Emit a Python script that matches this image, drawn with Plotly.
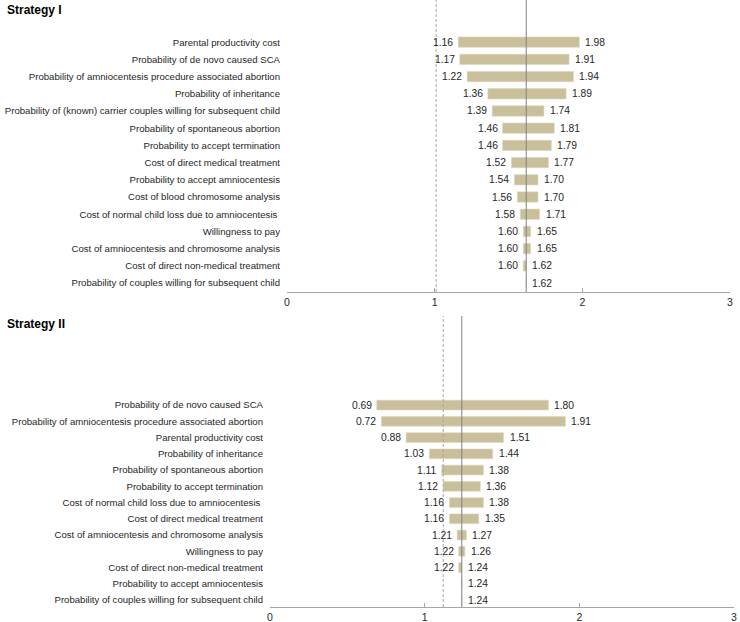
import plotly.graph_objects as go

# ---------------- data ----------------
s1_labels = [
    "Parental productivity cost",
    "Probability of de novo caused SCA",
    "Probability of amniocentesis procedure associated abortion",
    "Probability of inheritance",
    "Probability of (known) carrier couples willing for subsequent child",
    "Probability of spontaneous abortion",
    "Probability to accept termination",
    "Cost of direct medical treatment",
    "Probability to accept amniocentesis",
    "Cost of blood chromosome analysis",
    "Cost of normal child loss due to amniocentesis ",
    "Willingness to pay",
    "Cost of amniocentesis and chromosome analysis",
    "Cost of direct non-medical treatment",
    "Probability of couples willing for subsequent child",
]
s1_low = [1.16, 1.17, 1.22, 1.36, 1.39, 1.46, 1.46, 1.52, 1.54, 1.56, 1.58, 1.60, 1.60, 1.60, 1.62]
s1_high = [1.98, 1.91, 1.94, 1.89, 1.74, 1.81, 1.79, 1.77, 1.70, 1.70, 1.71, 1.65, 1.65, 1.62, 1.62]
s1_base = 1.62
s1_ref = 1.01

s2_labels = [
    "Probability of de novo caused SCA",
    "Probability of amniocentesis procedure associated abortion",
    "Parental productivity cost",
    "Probability of inheritance",
    "Probability of spontaneous abortion",
    "Probability to accept termination",
    "Cost of normal child loss due to amniocentesis ",
    "Cost of direct medical treatment",
    "Cost of amniocentesis and chromosome analysis",
    "Willingness to pay",
    "Cost of direct non-medical treatment",
    "Probability to accept amniocentesis",
    "Probability of couples willing for subsequent child",
]
s2_low = [0.69, 0.72, 0.88, 1.03, 1.11, 1.12, 1.16, 1.16, 1.21, 1.22, 1.22, 1.24, 1.24]
s2_high = [1.80, 1.91, 1.51, 1.44, 1.38, 1.36, 1.38, 1.35, 1.27, 1.26, 1.24, 1.24, 1.24]
s2_base = 1.24
s2_ref = 1.12

x_ticks = [0, 1, 2, 3]

# ---------------- style ----------------
W, H = 740, 622
BAR = "#C9BF9B"
FONT = "Liberation Sans, Arial, sans-serif"
TXT = "#262626"
FS = 9.6

fig = go.Figure()
annotations = []
shapes = []


def panel(labels, low, high, base, ref, xref, yref):
    widths = [h - l for l, h in zip(low, high)]
    fig.add_trace(go.Bar(
        y=labels, x=widths, base=low, orientation="h",
        marker=dict(color=BAR, line=dict(color="#DDD6BE", width=0.6)),
        width=0.6, xaxis=xref, yaxis=yref, hoverinfo="skip", showlegend=False,
    ))
    for lab, l, h in zip(labels, low, high):
        if h - l > 1e-9:
            annotations.append(dict(x=l, y=lab, xref=xref, yref=yref, text=f"{l:.2f}",
                                    showarrow=False, xanchor="right", xshift=-3,
                                    font=dict(family=FONT, size=10.3, color=TXT)))
        annotations.append(dict(x=max(h, base), y=lab, xref=xref, yref=yref, text=f"{h:.2f}",
                                showarrow=False, xanchor="left", xshift=4,
                                font=dict(family=FONT, size=10.3, color=TXT)))
    shapes.append(dict(type="line", xref=xref, yref=f"{yref} domain", x0=base, x1=base,
                       y0=0, y1=1, line=dict(color="#808080", width=1)))
    shapes.append(dict(type="line", xref=xref, yref=f"{yref} domain", x0=ref, x1=ref,
                       y0=0, y1=1, line=dict(color="#A6A6A6", width=1, dash="3px,2px")))


panel(s1_labels, s1_low, s1_high, s1_base, s1_ref, "x", "y")
panel(s2_labels, s2_low, s2_high, s2_base, s2_ref, "x2", "y2")

annotations.append(dict(x=5 / W, y=1 - 10 / H, xref="paper", yref="paper", text="<b>Strategy I</b>",
                        showarrow=False, xanchor="left", yanchor="middle",
                        font=dict(family=FONT, size=12, color="#000")))
annotations.append(dict(x=5 / W, y=1 - 324 / H, xref="paper", yref="paper", text="<b>Strategy II</b>",
                        showarrow=False, xanchor="left", yanchor="middle",
                        font=dict(family=FONT, size=12, color="#000")))

xcommon = dict(range=[0, 3], tickvals=x_ticks, ticktext=[str(t) for t in x_ticks],
               showgrid=False, zeroline=False, showline=True, linecolor="#A6A6A6", linewidth=1,
               ticks="inside", ticklen=4, tickcolor="#A6A6A6",
               tickfont=dict(family=FONT, size=10.5, color=TXT), automargin=False)
ycommon = dict(type="category", showgrid=False, zeroline=False, showline=False, ticks="",
               tickfont=dict(family=FONT, size=FS, color=TXT), automargin=False,
               ticklabelstandoff=6)

fig.update_layout(
    width=W, height=H,
    margin=dict(l=0, r=0, t=0, b=0),
    plot_bgcolor="white", paper_bgcolor="white",
    xaxis=dict(domain=[287 / W, 730 / W], anchor="y", **xcommon),
    yaxis=dict(domain=[1 - 292 / H, 1.0], anchor="x",
               categoryorder="array", categoryarray=list(reversed(s1_labels)),
               range=[-0.52, 16.45], **ycommon),
    xaxis2=dict(domain=[270 / W, 734 / W], anchor="y2", **xcommon),
    yaxis2=dict(domain=[1 - 607 / H, 1 - 316 / H], anchor="x2",
                categoryorder="array", categoryarray=list(reversed(s2_labels)),
                range=[-0.43, 17.48], **ycommon),
    annotations=annotations,
    shapes=shapes,
    font=dict(family=FONT, color=TXT),
)

fig.write_html("out.html", config={"displayModeBar": False},
               post_script="document.body.style.margin='0';document.body.style.overflow='hidden';")
